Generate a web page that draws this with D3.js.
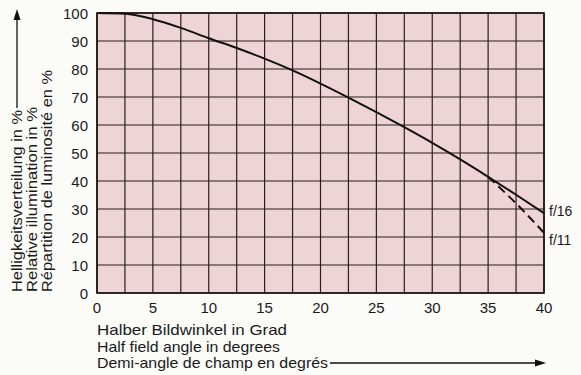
<!DOCTYPE html>
<html>
<head>
<meta charset="utf-8">
<script src="https://cdn.jsdelivr.net/npm/d3@7"></script>
<style>
  body { margin: 0; background: #fbfbf8; }
  text { font-family: "Liberation Sans", Arial, sans-serif; fill: #1a1a1a; }
</style>
</head>
<body>
<div id="chart"></div>
<script>
// half field angle (degrees) and relative illumination (%)
var angles = [0, 2.5, 5, 7.5, 10, 12.5, 15, 17.5, 20, 22.5, 25, 27.5, 30, 32.5, 35, 37.5, 40];
var f16 = [100, 99.7, 97.8, 94.7, 91, 87.5, 83.7, 79.5, 74.8, 69.8, 64.6, 59.2, 53.6, 47.7, 41.5, 35.1, 28.5];
var f11Angles = [35, 37.5, 40];
var f11 = [41.5, 32, 21.5];
var xTicks = [0, 5, 10, 15, 20, 25, 30, 35, 40];
var yTicks = [0, 10, 20, 30, 40, 50, 60, 70, 80, 90, 100];
var yTitle = ["Helligkeitsverteilung in %", "Relative illumination in %", "Répartition de luminosité en %"];
var xTitle = ["Halber Bildwinkel in Grad", "Half field angle in degrees", "Demi-angle de champ en degrés"];

var width = 581, height = 375;
var svg = d3.select("#chart").append("svg")
    .attr("width", width)
    .attr("height", height);

var x = d3.scaleLinear().domain([0, 40]).range([97, 544]);
var y = d3.scaleLinear().domain([0, 100]).range([293, 13]);

// pink plot background
svg.append("rect")
    .attr("x", x(0)).attr("y", y(100))
    .attr("width", x(40) - x(0)).attr("height", y(0) - y(100))
    .attr("fill", "#efd4d7");

// grid
var g = svg.append("g").attr("stroke", "#2a1d1d").attr("stroke-width", 1.2);
g.selectAll("line.v")
    .data(d3.range(0, 40.1, 2.5))
    .enter().append("line")
    .attr("x1", d => x(d)).attr("x2", d => x(d))
    .attr("y1", y(0)).attr("y2", y(100));
g.selectAll("line.h")
    .data(yTicks)
    .enter().append("line")
    .attr("x1", x(0)).attr("x2", x(40))
    .attr("y1", d => y(d)).attr("y2", d => y(d));
svg.append("rect")
    .attr("x", x(0)).attr("y", y(100))
    .attr("width", x(40) - x(0)).attr("height", y(0) - y(100))
    .attr("fill", "none").attr("stroke", "#1a1212").attr("stroke-width", 1.6);

// tick labels
svg.append("g").selectAll("text")
    .data(yTicks)
    .enter().append("text")
    .attr("x", 88).attr("y", d => y(d) + 5.5)
    .attr("text-anchor", "end")
    .style("font-size", "15px")
    .text(d => d);
svg.append("g").selectAll("text")
    .data(xTicks)
    .enter().append("text")
    .attr("x", d => x(d)).attr("y", 313)
    .attr("text-anchor", "middle")
    .style("font-size", "15px")
    .text(d => d);

// curves
var line = d3.line().curve(d3.curveMonotoneX);
svg.append("path")
    .attr("d", line(angles.map((a, i) => [x(a), y(f16[i])])))
    .attr("fill", "none").attr("stroke", "#111").attr("stroke-width", 2);
svg.append("path")
    .attr("d", line(f11Angles.map((a, i) => [x(a), y(f11[i])])))
    .attr("fill", "none").attr("stroke", "#111").attr("stroke-width", 2)
    .attr("stroke-dasharray", "9,5");

svg.append("text").attr("x", 549).attr("y", 216)
    .style("font-size", "14px").text("f/16");
svg.append("text").attr("x", 549).attr("y", 245)
    .style("font-size", "14px").text("f/11");

// y title (lengths)
var yLen = [182, 185, 222];
var yt = svg.append("g");
yTitle.forEach(function (t, i) {
    yt.append("text")
        .attr("transform", "translate(" + (22 + i * 15) + ",292) rotate(-90)")
        .attr("textLength", yLen[i])
        .attr("lengthAdjust", "spacingAndGlyphs")
        .style("font-size", "15px")
        .text(t);
});
svg.append("line")
    .attr("x1", 17).attr("x2", 17).attr("y1", 292 - yLen[0] - 2).attr("y2", 18)
    .attr("stroke", "#111").attr("stroke-width", 1.3);
svg.append("path")
    .attr("d", "M17,9 L13.5,20 L20.5,20 Z").attr("fill", "#111");

// x title
var xLen = [190, 183, 231];
xTitle.forEach(function (t, i) {
    svg.append("text")
        .attr("x", 97).attr("y", 335 + i * 16.5)
        .attr("textLength", xLen[i])
        .attr("lengthAdjust", "spacingAndGlyphs")
        .style("font-size", "15px")
        .text(t);
});
svg.append("line")
    .attr("x1", 97 + xLen[2] + 2).attr("x2", 536).attr("y1", 363).attr("y2", 363)
    .attr("stroke", "#111").attr("stroke-width", 1.3);
svg.append("path")
    .attr("d", "M546,363 L535,359.5 L535,366.5 Z").attr("fill", "#111");
</script>
</body>
</html>
